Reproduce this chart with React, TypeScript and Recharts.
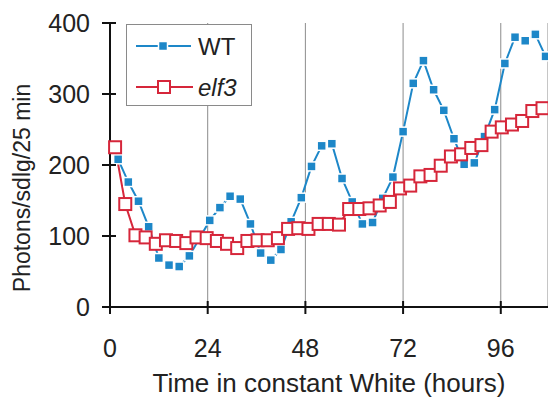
import { CartesianGrid, Label, Line, LineChart, XAxis, YAxis } from "recharts";

const seriesNames = ["WT", "elf3"];

const wtHours = [
  2, 4.5, 7, 9.5, 12, 14.5, 17, 19.5, 22, 24.5, 27, 29.5, 32, 34.5, 37, 39.5, 42, 44.5, 47, 49.5, 52, 54.5,
  57, 59.5, 62, 64.5, 67, 69.5, 72, 74.5, 77, 79.5, 82, 84.5, 87, 89.5, 92, 94.5, 97, 99.5, 102, 104.5, 107
];
const wtPhotons = [
  208, 176, 149, 113, 69, 59, 57, 72, 97, 122, 140, 156, 152, 117, 76, 66, 81, 120, 154, 198, 227, 230,
  181, 148, 117, 119, 153, 183, 247, 315, 347, 306, 277, 237, 201, 203, 240, 278, 343, 380, 375, 384, 353
];

const elf3Hours = [
  1.25, 3.75, 6.25, 8.75, 11.25, 13.75, 16.25, 18.75, 21.25, 23.75, 26.25, 28.75, 31.25, 33.75, 36.25,
  38.75, 41.25, 43.75, 46.25, 48.75, 51.25, 53.75, 56.25, 58.75, 61.25, 63.75, 66.25, 68.75, 71.25, 73.75,
  76.25, 78.75, 81.25, 83.75, 86.25, 88.75, 91.25, 93.75, 96.25, 98.75, 101.25, 103.75, 106.25
];
const elf3Photons = [
  225, 145, 101, 98, 89, 94, 93, 90, 98, 97, 93, 89, 83, 93, 94, 94, 97, 110, 111, 110, 117, 117, 116,
  138, 138, 139, 143, 148, 167, 171, 184, 186, 199, 212, 215, 224, 228, 247, 253, 257, 262, 276, 280
];

const xTicks = [0, 24, 48, 72, 96];
const yTicks = [0, 100, 200, 300, 400];

const wtData = wtHours.map((h, i) => ({ h, v: wtPhotons[i] }));
const elf3Data = elf3Hours.map((h, i) => ({ h, v: elf3Photons[i] }));

const BLUE = "#1d87c8";
const RED = "#d6263a";
const INK = "#222";
const FONT = '"Liberation Sans", Arial, sans-serif';

function BlueDot(p: any) {
  if (p.cx == null || p.cy == null) return <g key={`b${p.index}`} />;
  return (
    <rect key={`b${p.index}`} x={p.cx - 4.5} y={p.cy - 4.5} width={9} height={9} fill={BLUE} stroke="#fff" strokeWidth={1.5} />
  );
}

function RedDot(p: any) {
  if (p.cx == null || p.cy == null) return <g key={`r${p.index}`} />;
  return (
    <rect key={`r${p.index}`} x={p.cx - 6} y={p.cy - 6} width={12} height={12} fill="#fff" stroke={RED} strokeWidth={2} />
  );
}

function YTick({ x, y, payload }: any) {
  return (
    <g>
      <line x1={x - 8} x2={x + 6} y1={y} y2={y} stroke="#111" strokeWidth={2} />
      <text x={x - 20} y={y} textAnchor="end" dominantBaseline="central" fontSize={25} fontFamily={FONT} fill={INK}>
        {payload.value}
      </text>
    </g>
  );
}

function XTick({ x, y, payload }: any) {
  return (
    <g>
      <line x1={x} x2={x} y1={y - 6} y2={y + 7} stroke="#111" strokeWidth={2} />
      <text x={x} y={y + 41} textAnchor="middle" dominantBaseline="central" fontSize={25} fontFamily={FONT} fill={INK}>
        {payload.value}
      </text>
    </g>
  );
}

function LegendBox() {
  return (
    <div
      style={{
        position: "absolute",
        left: 126,
        top: 24,
        width: 124,
        height: 80,
        border: "1px solid #8a8a8a",
        background: "#fff"
      }}
    >
      <svg width={124} height={80} style={{ display: "block" }}>
        <line x1={9} x2={64} y1={21} y2={21} stroke={BLUE} strokeWidth={2} />
        <rect x={31.5} y={16.5} width={9} height={9} fill={BLUE} stroke="#fff" strokeWidth={1.5} />
        <text x={71} y={21} dominantBaseline="central" fontSize={24} fontFamily={FONT} fill={INK}>
          {seriesNames[0]}
        </text>
        <line x1={9} x2={66} y1={62} y2={62} stroke={RED} strokeWidth={2} />
        <rect x={31} y={56} width={12} height={12} fill="#fff" stroke={RED} strokeWidth={2} />
        <text x={71} y={62} dominantBaseline="central" fontSize={24} fontStyle="italic" fontFamily={FONT} fill={INK}>
          {seriesNames[1]}
        </text>
      </svg>
    </div>
  );
}

export default function App() {
  return (
    <div style={{ position: "absolute", left: 0, top: 0, width: 548, height: 400, background: "#fff", overflow: "hidden" }}>
      <LineChart width={548} height={400} margin={{ top: 23, right: 0, bottom: 92, left: 109 }}>
        <CartesianGrid horizontal={false} vertical stroke="#8c8c8c" strokeWidth={1} />
        <XAxis
          dataKey="h"
          type="number"
          domain={[0, 107.6]}
          ticks={xTicks}
          height={1}
          tickSize={0}
          tickMargin={0}
          tickLine={false}
          tick={<XTick />}
          axisLine={{ stroke: "#111", strokeWidth: 2 }}
          interval={0}
        >
          <Label
            content={({ viewBox }: any) => (
              <text
                x={viewBox.x + viewBox.width / 2}
                y={viewBox.y + 85}
                textAnchor="middle"
                fontSize={26}
                fontFamily={FONT}
                fill={INK}
              >
                Time in constant White (hours)
              </text>
            )}
          />
        </XAxis>
        <YAxis
          type="number"
          domain={[0, 400]}
          ticks={yTicks}
          width={1}
          tickSize={0}
          tickMargin={0}
          tickLine={false}
          tick={<YTick />}
          axisLine={{ stroke: "#111", strokeWidth: 2 }}
          interval={0}
        >
          <Label
            content={({ viewBox }: any) => {
              const cx = viewBox.x + viewBox.width - 88;
              const cy = viewBox.y + viewBox.height / 2 + 23;
              return (
                <text
                  x={cx}
                  y={cy}
                  transform={`rotate(-90 ${cx} ${cy})`}
                  textAnchor="middle"
                  dominantBaseline="central"
                  fontSize={23}
                  fontFamily={FONT}
                  fill={INK}
                >
                  Photons/sdlg/25 min
                </text>
              );
            }}
          />
        </YAxis>
        <Line
          data={wtData}
          dataKey="v"
          name={seriesNames[0]}
          stroke={BLUE}
          strokeWidth={2}
          dot={BlueDot}
          activeDot={false}
          isAnimationActive={false}
        />
        <Line
          data={elf3Data}
          dataKey="v"
          name={seriesNames[1]}
          stroke={RED}
          strokeWidth={2}
          dot={RedDot}
          activeDot={false}
          isAnimationActive={false}
        />
      </LineChart>
      <LegendBox />
    </div>
  );
}
